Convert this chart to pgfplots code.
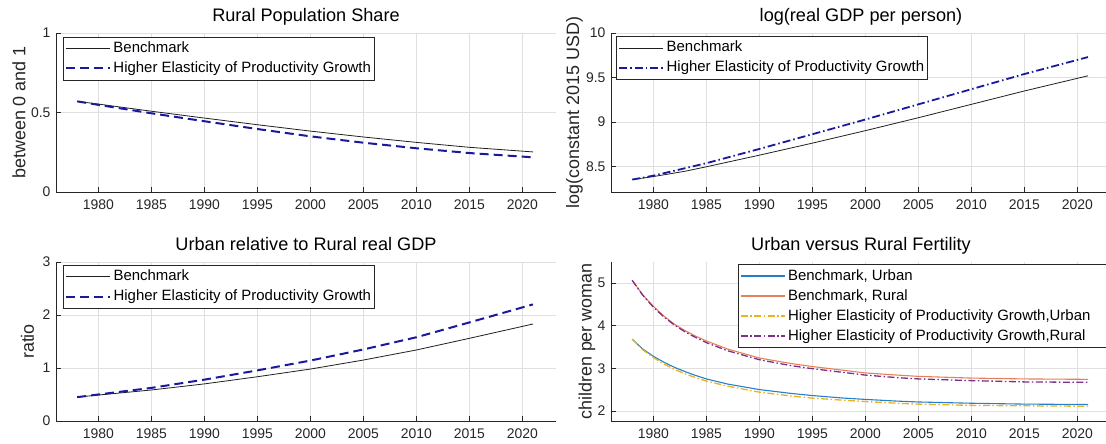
\documentclass[border=0pt]{standalone}
\usepackage{pgfplots}
\pgfplotsset{compat=1.18}
\usepackage{fontspec}
\setmainfont{Liberation Sans}
\definecolor{axisc}{rgb}{0.15,0.15,0.15}
\definecolor{gridc}{RGB}{223,223,223}
\definecolor{hblue}{rgb}{0.1,0.1,0.62}
\definecolor{mblue}{rgb}{0.15,0.5,0.78}
\definecolor{morange}{rgb}{0.9,0.5,0.35}
\definecolor{myellow}{rgb}{0.929,0.694,0.125}
\definecolor{mpurple}{rgb}{0.494,0.184,0.556}
\pgfplotsset{
  myaxis/.style={
    scale only axis, width=500bp, height=159bp, anchor=south west,
    xmin=1976, xmax=2023.17,
    xtick={1980,1985,...,2020},
    axis lines*=left, axis line style={-, draw=axisc, line width=0.6bp},
    xtick pos=bottom, ytick pos=left, tick align=inside,
    major tick length=5bp, tick style={draw=axisc, line width=0.6bp},
    grid=major, major grid style={draw=gridc, line width=0.6bp},
    /pgf/number format/assume math mode=true,
    /pgf/number format/1000 sep={},
    tick label style={font=\fontsize{14}{16}\selectfont, text=axisc},
    xticklabel style={yshift=-4bp},
    yticklabel style={xshift=-2bp},
    title style={font=\fontsize{18.2}{21}\selectfont, at={(axis description cs:0.5,1)}, anchor=base, yshift=5.5bp},
    ylabel style={font=\fontsize{18}{21}\selectfont, text=axisc, anchor=center},
    legend cell align=left,
    legend image code/.code={\path (0bp,0bp); \draw[##1] (1bp,0bp) -- (45bp,0bp);},
    legend style={anchor=north west, draw=axisc, line width=0.6bp, fill=white,
      inner xsep=1bp, inner ysep=3.5bp, row sep=4bp,
      font=\fontsize{15}{18}\selectfont,
      nodes={inner xsep=2.5bp, inner ysep=0bp, text height=12bp, text depth=4bp}},
  },
  bench/.style={draw=black!88, line width=0.8bp},
  hdash/.style={draw=hblue, line width=2bp, dash pattern=on 9bp off 5bp},
  hdashdot/.style={draw=hblue, line width=1.8bp, dash pattern=on 8bp off 3bp on 1.5bp off 3bp},
}
\begin{document}
\begin{tikzpicture}
% Top-left
\begin{axis}[myaxis, at={(56bp,252bp)},
  ymin=0, ymax=1, ytick={0,0.5,1},
  title={Rural Population Share},
  ylabel={between 0 and 1},
  ylabel style={at={(axis description cs:-0.074,0.5)}},
  legend style={at={(axis description cs:0.0134,0.977)}}]
\addplot[bench] coordinates {(1978,0.570) (1980,0.553) (1985,0.508) (1990,0.465) (1995,0.423) (2000,0.383) (2005,0.346) (2010,0.312) (2015,0.281) (2021,0.252)};
\addlegendentry{Benchmark}
\addplot[hdash] coordinates {(1978,0.570) (1980,0.548) (1985,0.495) (1990,0.445) (1995,0.396) (2000,0.350) (2005,0.310) (2010,0.275) (2015,0.245) (2021,0.218)};
\addlegendentry{Higher Elasticity of Productivity Growth}
\end{axis}
% Top-right
\begin{axis}[myaxis, at={(611bp,252bp)},
  ymin=8.217, ymax=10, ytick={8.5,9,9.5,10},
  title={log(real GDP per person)},
  ylabel={log(constant 2015 USD)},
  ylabel style={at={(axis description cs:-0.073,0.5)}},
  legend style={at={(axis description cs:0.0102,0.98)}}]
\addplot[bench] coordinates {(1978,8.356) (1980,8.39) (1983,8.45) (1985,8.50) (1990,8.63) (1995,8.765) (2000,8.905) (2005,9.05) (2010,9.20) (2015,9.35) (2021,9.52)};
\addlegendentry{Benchmark}
\addplot[hdashdot] coordinates {(1978,8.356) (1980,8.40) (1985,8.54) (1990,8.70) (1995,8.865) (2000,9.03) (2005,9.20) (2010,9.37) (2015,9.54) (2021,9.73)};
\addlegendentry{Higher Elasticity of Productivity Growth}
\end{axis}
% Bottom-left
\begin{axis}[myaxis, at={(56bp,23bp)},
  ymin=0, ymax=3, ytick={0,1,2,3},
  title={Urban relative to Rural real GDP},
  ylabel={ratio},
  ylabel style={at={(axis description cs:-0.057,0.5)}},
  legend style={at={(axis description cs:0.0136,0.983)}}]
\addplot[bench] coordinates {(1978,0.45) (1980,0.49) (1985,0.585) (1990,0.70) (1995,0.835) (2000,0.98) (2005,1.15) (2010,1.34) (2015,1.56) (2021,1.83)};
\addlegendentry{Benchmark}
\addplot[hdash] coordinates {(1978,0.45) (1980,0.50) (1985,0.625) (1990,0.78) (1995,0.955) (2000,1.14) (2005,1.35) (2010,1.58) (2015,1.86) (2021,2.20)};
\addlegendentry{Higher Elasticity of Productivity Growth}
\end{axis}
% Bottom-right
\begin{axis}[myaxis, at={(611bp,23bp)},
  ymin=1.764, ymax=5.49, ytick={2,3,4,5},
  title={Urban versus Rural Fertility},
  ylabel={children per woman},
  ylabel style={at={(axis description cs:-0.048,0.5)}},
  legend style={at={(axis description cs:0.254,0.986)}}]
\addplot[draw=mblue, line width=1.1bp] coordinates {(1978,3.68) (1979,3.45) (1980,3.28) (1981,3.14) (1982,3.02) (1983,2.92) (1984,2.83) (1985,2.75) (1987,2.63) (1990,2.50) (1993,2.41) (1995,2.36) (1998,2.30) (2000,2.27) (2003,2.23) (2005,2.21) (2010,2.18) (2015,2.16) (2021,2.15)};
\addlegendentry{Benchmark, Urban}
\addplot[draw=morange, line width=1.1bp] coordinates {(1978,5.06) (1979,4.72) (1980,4.45) (1981,4.22) (1982,4.03) (1983,3.88) (1984,3.75) (1985,3.64) (1987,3.45) (1990,3.24) (1993,3.11) (1995,3.04) (1998,2.95) (2000,2.89) (2003,2.84) (2005,2.81) (2010,2.77) (2015,2.75) (2021,2.74)};
\addlegendentry{Benchmark, Rural}
\addplot[draw=myellow, line width=1.3bp, dash pattern=on 7bp off 2.5bp on 1.5bp off 2.5bp] coordinates {(1978,3.68) (1979,3.43) (1980,3.25) (1981,3.10) (1982,2.97) (1983,2.87) (1984,2.78) (1985,2.70) (1987,2.58) (1990,2.44) (1993,2.35) (1995,2.30) (1998,2.25) (2000,2.22) (2003,2.18) (2005,2.16) (2010,2.13) (2015,2.12) (2021,2.11)};
\addlegendentry{Higher Elasticity of Productivity Growth,Urban\rule{25bp}{0bp}}
\addplot[draw=mpurple, line width=1.3bp, dash pattern=on 7bp off 2.5bp on 1.5bp off 2.5bp] coordinates {(1978,5.06) (1979,4.71) (1980,4.43) (1981,4.20) (1982,4.01) (1983,3.85) (1984,3.72) (1985,3.60) (1987,3.41) (1990,3.20) (1993,3.06) (1995,2.99) (1998,2.90) (2000,2.84) (2003,2.78) (2005,2.75) (2010,2.71) (2015,2.68) (2021,2.67)};
\addlegendentry{Higher Elasticity of Productivity Growth,Rural}
\end{axis}
\pgfresetboundingbox
\useasboundingbox (0bp,0bp) rectangle (1106bp,444bp);
\end{tikzpicture}
\end{document}
